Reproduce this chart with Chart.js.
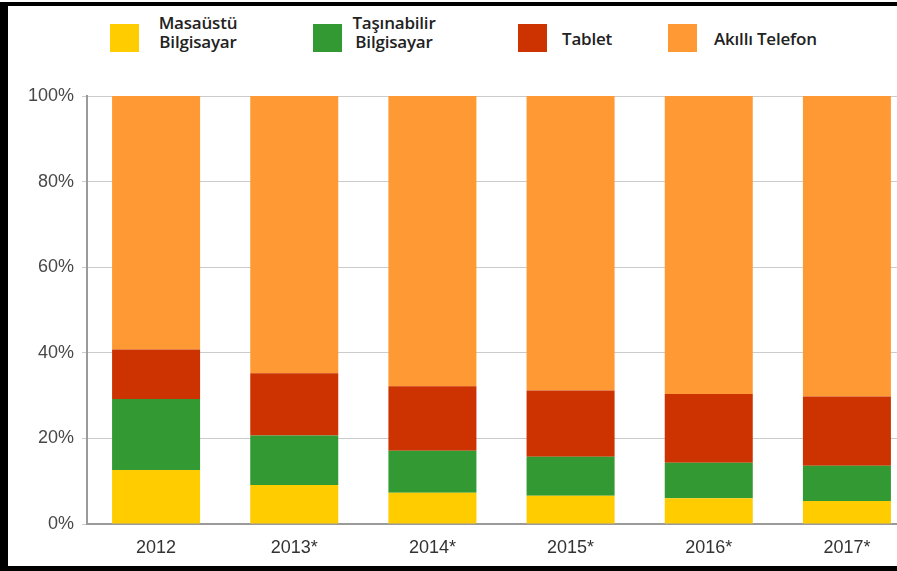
<!DOCTYPE html>
<html>
<head>
<meta charset="utf-8">
<script src="https://cdn.jsdelivr.net/npm/chart.js@4"></script>
<style>
    html, body { margin: 0; padding: 0; background: #fff; }
    body { width: 897px; height: 571px; overflow: hidden; position: relative; }
    #frame {
        position: absolute; left: 0; top: 2px; width: 905px; height: 560px;
        border-top: 4px solid #000; border-left: 8px solid #000; border-bottom: 5px solid #000;
        z-index: 5; pointer-events: none;
    }
    #chartWrap { position: absolute; left: 0; top: 0; width: 920px; height: 566px; }
    .legend-box { position: absolute; width: 29px; height: 28px; top: 24px; }
    .legend-text {
        position: absolute; font-family: "Open Sans", sans-serif; font-weight: 600;
        font-size: 17px; color: #222; line-height: 18.5px; text-align: center;
        letter-spacing: -0.2px; white-space: nowrap;
    }
</style>
</head>
<body>
<div id="frame"></div>

<!-- Legend -->
<div class="legend-box" style="left:110px; background:#FFCC00;"></div>
<div class="legend-text" style="left:148px; top:14px; width:100px;">Masaüstü<br>Bilgisayar</div>
<div class="legend-box" style="left:313px; background:#339933;"></div>
<div class="legend-text" style="left:344px; top:14px; width:100px;">Taşınabilir<br>Bilgisayar</div>
<div class="legend-box" style="left:518px; background:#CC3300;"></div>
<div class="legend-text" style="left:562px; top:30px;">Tablet</div>
<div class="legend-box" style="left:668px; background:#FF9933;"></div>
<div class="legend-text" style="left:714px; top:30px;">Akıllı Telefon</div>

<div id="chartWrap"><canvas id="shareChart" width="920" height="566"></canvas></div>

<script>
// Device share by year (percent of total)
const years = ['2012', '2013*', '2014*', '2015*', '2016*', '2017*'];
const desktop = [12.6, 9.1, 7.3, 6.6, 6.0, 5.4];
const laptop = [16.6, 11.6, 9.8, 9.1, 8.3, 8.2];
const tablet = [11.6, 14.5, 15.1, 15.5, 16.1, 16.2];
const smartphone = [59.2, 64.8, 67.8, 68.8, 69.6, 70.2];
const yTicks = [0, 20, 40, 60, 80, 100];

const BAR_PCT = 0.637;

function makeSet(label, data, color) {
    return {
        label: label,
        data: data,
        backgroundColor: color,
        borderWidth: 0,
        categoryPercentage: 1,
        barPercentage: BAR_PCT
    };
}

const ctx = document.getElementById('shareChart').getContext('2d');
new Chart(ctx, {
    type: 'bar',
    data: {
        labels: years,
        datasets: [
            makeSet('Masaüstü Bilgisayar', desktop, '#FFCC00'),
            makeSet('Taşınabilir Bilgisayar', laptop, '#339933'),
            makeSet('Tablet', tablet, '#CC3300'),
            makeSet('Akıllı Telefon', smartphone, '#FF9933')
        ]
    },
    options: {
        responsive: false,
        animation: false,
        layout: { padding: { top: 96, right: 4, left: 0, bottom: 0 } },
        plugins: {
            legend: { display: false },
            tooltip: { enabled: false }
        },
        scales: {
            x: {
                stacked: true,
                grid: { display: false, drawTicks: false },
                border: { color: '#9a9a9a', width: 2 },
                ticks: {
                    color: '#333',
                    padding: 13,
                    font: { family: 'Liberation Sans', size: 18 }
                },
                afterFit: function(scale) { scale.height = 42; }
            },
            y: {
                stacked: true,
                min: 0,
                max: 100,
                afterBuildTicks: function(scale) {
                    scale.ticks = yTicks.map(v => ({ value: v }));
                },
                grid: { color: '#cbcbcb', lineWidth: 1, tickLength: 5 },
                border: { color: '#9a9a9a', width: 2 },
                ticks: {
                    color: '#484848',
                    padding: 8,
                    font: { family: 'Liberation Sans', size: 18 },
                    callback: function(value) { return value + '%'; }
                },
                afterFit: function(scale) { scale.width = 87; }
            }
        }
    }
});
</script>
</body>
</html>
